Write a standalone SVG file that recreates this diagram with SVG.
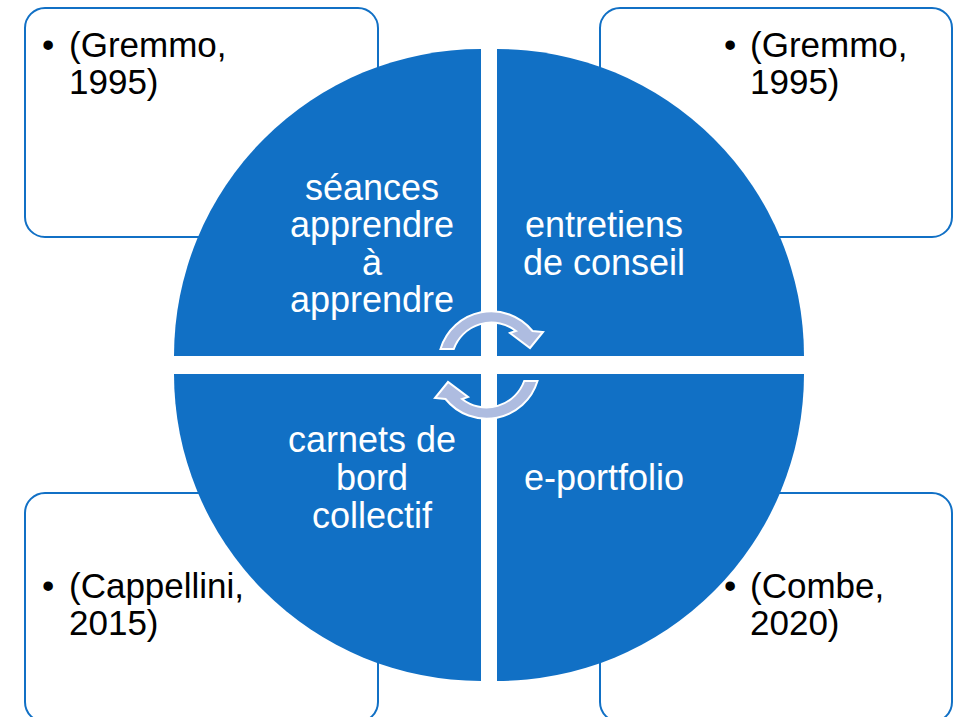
<svg xmlns="http://www.w3.org/2000/svg" width="961" height="717" viewBox="0 0 961 717">
  <style>
    .box { fill: #ffffff; stroke: #1170C5; stroke-width: 2; }
    .quad { fill: #1170C5; }
    .qt { font-family: "Liberation Sans", Arial, sans-serif; font-size: 36px; fill: #ffffff; text-anchor: middle; }
    .bt { font-family: "Liberation Sans", Arial, sans-serif; font-size: 35px; fill: #000000; }
    .arrow { fill: #AEBCE0; stroke: #ffffff; stroke-width: 2; stroke-linejoin: miter; }
  </style>
  <rect width="961" height="717" fill="#ffffff"/>

  <g id="box-tl">
    <rect class="box" x="25" y="8" width="353" height="229" rx="20"/>
    <text class="bt" x="42" y="57">•</text>
    <text class="bt" x="69" y="57">(Gremmo,</text>
    <text class="bt" x="69" y="94">1995)</text>
  </g>
  <g id="box-tr">
    <rect class="box" x="600" y="8" width="352" height="229" rx="20"/>
    <text class="bt" x="724" y="57">•</text>
    <text class="bt" x="750" y="57">(Gremmo,</text>
    <text class="bt" x="750" y="94">1995)</text>
  </g>
  <g id="box-bl">
    <rect class="box" x="25" y="493" width="353" height="229" rx="20"/>
    <text class="bt" x="42" y="598">•</text>
    <text class="bt" x="69" y="598">(Cappellini,</text>
    <text class="bt" x="69" y="635">2015)</text>
  </g>
  <g id="box-br">
    <rect class="box" x="600" y="493" width="352" height="229" rx="20"/>
    <text class="bt" x="724" y="598">•</text>
    <text class="bt" x="750" y="598">(Combe,</text>
    <text class="bt" x="750" y="635">2020)</text>
  </g>

  <g id="quad-tl">
    <path class="quad" d="M481,356 L174,356 A307,307 0 0 1 481,49 Z"/>
    <text class="qt" x="372" y="200">séances</text>
    <text class="qt" x="372" y="237.3">apprendre</text>
    <text class="qt" x="372" y="274.6">à</text>
    <text class="qt" x="372" y="312">apprendre</text>
  </g>
  <g id="quad-tr">
    <path class="quad" d="M497,356 L497,49 A307,307 0 0 1 804,356 Z"/>
    <text class="qt" x="604" y="237">entretiens</text>
    <text class="qt" x="604" y="275">de conseil</text>
  </g>
  <g id="quad-bl">
    <path class="quad" d="M481,374 L481,681 A307,307 0 0 1 174,374 Z"/>
    <text class="qt" x="372" y="452">carnets de</text>
    <text class="qt" x="372" y="490">bord</text>
    <text class="qt" x="372" y="527.5">collectif</text>
  </g>
  <g id="quad-br">
    <path class="quad" d="M497,374 L804,374 A307,307 0 0 1 497,681 Z"/>
    <text class="qt" x="604" y="490">e-portfolio</text>
  </g>

  <g id="connectors">
    <path class="arrow" d="M440.5,349 A53,53 0 0 1 532.5,331 L543,332 L530,348 L510,333 L516,331 A40,40 0 0 0 453.8,349 Z"/>
    <path class="arrow" transform="rotate(180 489 365)" d="M440.5,349 A53,53 0 0 1 532.5,331 L543,332 L530,348 L510,333 L516,331 A40,40 0 0 0 453.8,349 Z"/>
  </g>
</svg>
